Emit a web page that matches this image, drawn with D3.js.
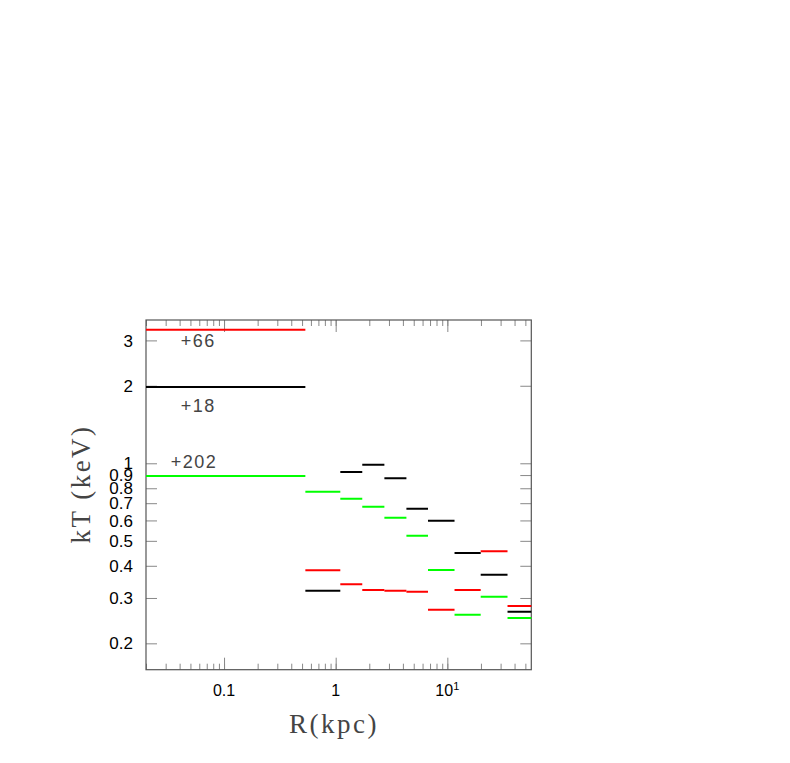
<!DOCTYPE html>
<html><head><meta charset="utf-8">
<script src="https://cdn.jsdelivr.net/npm/d3@7"></script>
<style>body{margin:0;background:#fff}svg{display:block}</style>
</head><body>
<script>
// Bin edges in R (kpc)
const binLow  = [0.01, 0.535, 1.10, 1.73, 2.73, 4.30, 6.71, 11.6, 19.9, 34.6];
const binHigh = [0.535, 1.10, 1.73, 2.73, 4.30, 6.71, 11.6, 19.9, 34.6, 70];
// kT (keV) per series
const blackKT = [1.98, 0.320, 0.925, 0.988, 0.875, 0.666, 0.598, 0.448, 0.369, 0.265];
const redKT   = [3.30, 0.384, 0.339, 0.322, 0.320, 0.317, 0.270, 0.322, 0.456, 0.279];
const greenKT = [0.893, 0.776, 0.729, 0.678, 0.615, 0.523, 0.385, 0.258, 0.303, 0.251];
const seriesNames  = ["black", "red", "green"];
const seriesColors = ["#000000", "#ff0000", "#00ff00"];
const annotations = [{text: "+66", x: 0.041, y: 2.99}, {text: "+18", x: 0.041, y: 1.673}, {text: "+202", x: 0.0333, y: 1.014}];
const yTickValues = [0.2, 0.3, 0.4, 0.5, 0.6, 0.7, 0.8, 0.9, 1, 2, 3];
const xTickLabels = [{v: 0.1, t: "0.1"}, {v: 1, t: "1"}, {v: 10, t: "10", sup: "1"}];

const W = 790, H = 763;
const L = 146, R = 531.3, T = 320, B = 669.7;
const svg = d3.select("body").append("svg").attr("width", W).attr("height", H);
const x = d3.scaleLog().domain([0.02, 56.5]).range([L, R]);
const y = d3.scaleLog().domain([0.158, 3.6]).range([B, T]);

svg.append("defs").append("clipPath").attr("id", "clip")
  .append("rect").attr("x", L).attr("y", T).attr("width", R - L).attr("height", B - T);

const axisCol = "#555";
// x ticks (top and bottom, inward)
const xMinor = [];
for (let d = 0.01; d < 100; d *= 10) for (let m = 1; m <= 9; m++) { const v = d * m; if (v >= 0.02 && v <= 56.5) xMinor.push(v); }
const xMajor = [0.1, 1, 10];
const gb = svg.append("g").attr("transform", `translate(0,${B})`).call(d3.axisBottom(x).tickValues(xMinor).tickSize(-6).tickFormat(""));
const gt = svg.append("g").attr("transform", `translate(0,${T})`).call(d3.axisTop(x).tickValues(xMinor).tickSize(-6).tickFormat(""));
const gb2 = svg.append("g").attr("transform", `translate(0,${B})`).call(d3.axisBottom(x).tickValues(xMajor).tickSize(-12).tickFormat(""));
const gt2 = svg.append("g").attr("transform", `translate(0,${T})`).call(d3.axisTop(x).tickValues(xMajor).tickSize(-12).tickFormat(""));
const gl = svg.append("g").attr("transform", `translate(${L},0)`).call(d3.axisLeft(y).tickValues(yTickValues).tickSize(-11).tickFormat(""));
const gr = svg.append("g").attr("transform", `translate(${R},0)`).call(d3.axisRight(y).tickValues(yTickValues).tickSize(-11).tickFormat(""));
[gb, gt, gb2, gt2, gl, gr].forEach(g => {
  g.select(".domain").remove();
  g.selectAll(".tick line").attr("stroke", "#888").attr("stroke-width", 1);
});
svg.append("rect").attr("x", L).attr("y", T).attr("width", R - L).attr("height", B - T)
  .attr("fill", "none").attr("stroke", axisCol).attr("stroke-width", 1.2);

// tick labels
svg.append("g").selectAll("text").data(yTickValues).join("text")
  .attr("x", 133).attr("y", d => y(d)).attr("dy", "0.36em").attr("text-anchor", "end")
  .attr("font-family", "Liberation Sans, Arial, sans-serif").attr("font-size", 17).attr("fill", "#000")
  .text(d => d3.format("~g")(d));
const xl = svg.append("g").selectAll("text").data(xTickLabels).join("text")
  .attr("x", d => x(d.v)).attr("y", 696).attr("text-anchor", "middle")
  .attr("font-family", "Liberation Sans, Arial, sans-serif").attr("font-size", 16).attr("fill", "#000");
xl.append("tspan").text(d => d.t);
xl.filter(d => d.sup).append("tspan").attr("font-size", 11).attr("dy", -6).text(d => d.sup);

// axis titles
svg.append("text").attr("x", 334).attr("y", 733).attr("text-anchor", "middle")
  .attr("font-family", "Liberation Serif, Times New Roman, serif").attr("font-size", 27).attr("fill", "#444")
  .attr("letter-spacing", 2.5).text("R(kpc)");
svg.append("text").attr("transform", "translate(90,484) rotate(-90)").attr("text-anchor", "middle")
  .attr("font-family", "Liberation Serif, Times New Roman, serif").attr("font-size", 27).attr("fill", "#444")
  .attr("letter-spacing", 2.5).text("kT (keV)");

// data segments
const allSeries = [blackKT, redKT, greenKT];
const plot = svg.append("g").attr("clip-path", "url(#clip)");
allSeries.forEach((vals, si) => {
  plot.append("g").selectAll("line").data(vals).join("line")
    .attr("x1", (d, i) => x(binLow[i])).attr("x2", (d, i) => x(binHigh[i]))
    .attr("y1", d => y(d)).attr("y2", d => y(d))
    .attr("stroke", seriesColors[si]).attr("stroke-width", 2);
});

// annotations
svg.append("g").selectAll("text").data(annotations).join("text")
  .attr("x", d => x(d.x)).attr("y", d => y(d.y)).attr("dy", "0.36em")
  .attr("font-family", "Liberation Sans, Arial, sans-serif").attr("font-size", 18).attr("fill", "#444")
  .attr("letter-spacing", 1.5).text(d => d.text);
</script>
</body></html>
